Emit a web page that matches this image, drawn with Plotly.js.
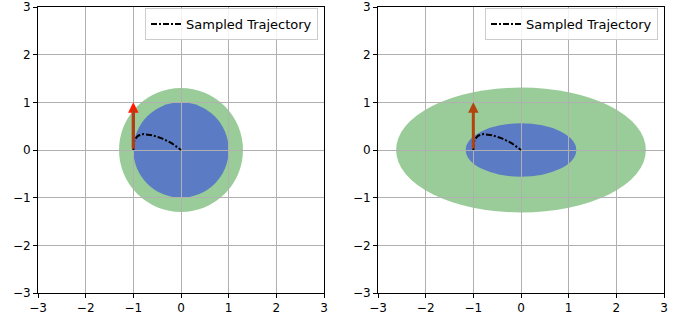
<!DOCTYPE html>
<html><head><meta charset="utf-8">
<script src="https://cdn.plot.ly/plotly-3.0.1.min.js"></script>
<style>html,body{margin:0;padding:0;background:#fff}#c{width:683px;height:320px}</style>
</head><body><div id="c"></div>
<script>
// Data
const trajX = [-1.0, -0.98, -0.9, -0.79, -0.61, -0.40, -0.19, 0.0];
const trajY = [0.0, 0.21, 0.30, 0.335, 0.31, 0.245, 0.14, 0.0];
const outerLeft = {a: 1.3, b: 1.3};
const innerLeft = {a: 1.0, b: 1.0};
const outerRight = {a: 2.62, b: 1.31};
const innerRight = {a: 1.16, b: 0.56};
const arrowStart = [-1.0, 0.0];
const arrowEnd = [-1.0, 1.0];
const tickVals = [-3, -2, -1, 0, 1, 2, 3];
const tickText = ['\u22123', '\u22122', '\u22121', '0', '1', '2', '3'];

const green = '#99cc99';
const blue = '#5b7bc4';

function ell(xr, yr, e, color) {
  return {type: 'circle', xref: xr, yref: yr, x0: -e.a, x1: e.a, y0: -e.b, y1: e.b,
    fillcolor: color, line: {width: 0}, layer: 'below'};
}

const traces = [
  {x: trajX, y: trajY, xaxis: 'x', yaxis: 'y', mode: 'lines', name: 'Sampled Trajectory',
   line: {color: 'black', width: 2, dash: '6px,2px,2px,2px'}, legend: 'legend'},
  {x: trajX, y: trajY, xaxis: 'x2', yaxis: 'y2', mode: 'lines', name: 'Sampled Trajectory',
   line: {color: 'black', width: 2, dash: '6px,2px,2px,2px'}, legend: 'legend2'}
];

function ax(domain, anchor) {
  return {domain: domain, anchor: anchor, range: [-3, 3], tickvals: tickVals, ticktext: tickText,
    showgrid: true, gridcolor: '#b0b0b0', gridwidth: 1, zeroline: false,
    showline: true, mirror: true, linecolor: 'black', linewidth: 1,
    ticks: 'outside', ticklen: 4, tickcolor: 'black',
    tickfont: {family: 'DejaVu Sans', size: 12, color: 'black'}, fixedrange: true};
}

const legFont = {family: 'DejaVu Sans', size: 13, color: 'black'};
const yd = [27/320, 313/320];
const layout = {
  width: 683, height: 320, margin: {l: 0, r: 0, t: 0, b: 0},
  paper_bgcolor: 'white', plot_bgcolor: 'white', showlegend: true,
  xaxis: ax([38/683, 324/683], 'y'),
  yaxis: ax(yd, 'x'),
  xaxis2: ax([378/683, 664/683], 'y2'),
  yaxis2: ax(yd, 'x2'),
  legend: {x: 318/683, xanchor: 'right', y: 1 - 8/320, yanchor: 'top', bgcolor: 'rgba(255,255,255,0.85)',
    bordercolor: '#cccccc', borderwidth: 1, font: legFont, itemwidth: 30, tracegroupgap: 0},
  legend2: {x: 658/683, xanchor: 'right', y: 1 - 8/320, yanchor: 'top', bgcolor: 'rgba(255,255,255,0.85)',
    bordercolor: '#cccccc', borderwidth: 1, font: legFont, itemwidth: 30, tracegroupgap: 0},
  shapes: [
    ell('x', 'y', outerLeft, green), ell('x', 'y', innerLeft, blue),
    ell('x2', 'y2', outerRight, green), ell('x2', 'y2', innerRight, blue)
  ],
  annotations: [
    {xref: 'x', yref: 'y', axref: 'x', ayref: 'y', x: arrowEnd[0], y: arrowEnd[1], ax: arrowStart[0], ay: arrowStart[1],
     text: '', showarrow: true, arrowhead: 2, arrowsize: 0.7, arrowwidth: 3, arrowcolor: '#ff1a00'},
    {xref: 'x', yref: 'y', axref: 'x', ayref: 'y', x: arrowEnd[0], y: arrowEnd[1] - 0.15, ax: arrowStart[0], ay: arrowStart[1],
     text: '', showarrow: true, arrowhead: 0, arrowwidth: 3, arrowcolor: '#a8401a'},
    {xref: 'x2', yref: 'y2', axref: 'x2', ayref: 'y2', x: arrowEnd[0], y: arrowEnd[1], ax: arrowStart[0], ay: arrowStart[1],
     text: '', showarrow: true, arrowhead: 2, arrowsize: 0.7, arrowwidth: 3, arrowcolor: '#b4440f'}
  ]
};
Plotly.newPlot('c', traces, layout, {displayModeBar: false, staticPlot: true});
</script></body></html>
